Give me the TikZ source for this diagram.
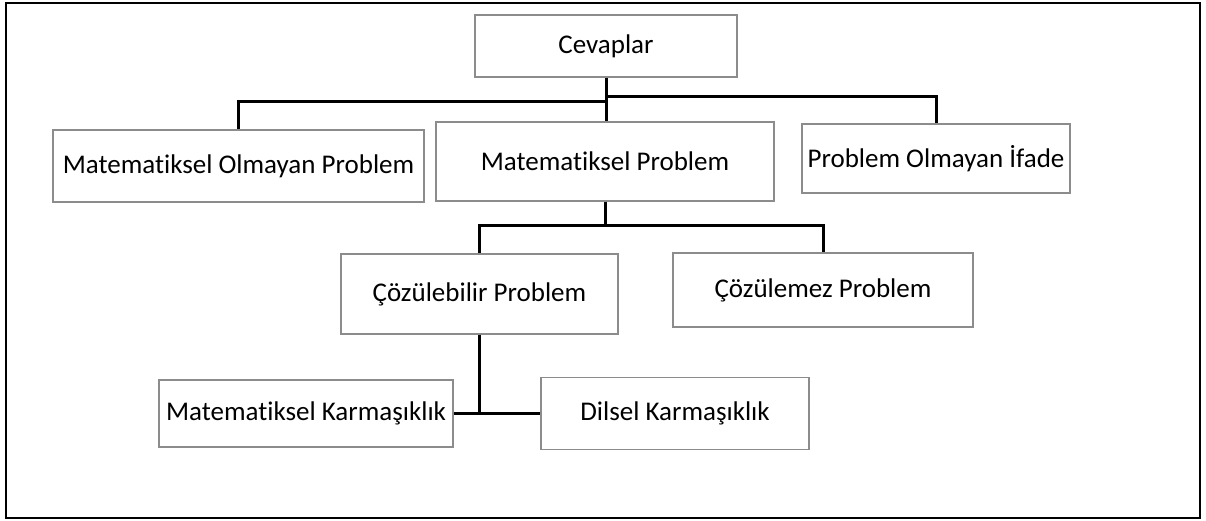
\documentclass[tikz,border=0pt]{standalone}
\usepackage{fontspec}
\setmainfont[Ligatures=NoCommon]{Carlito}
\usetikzlibrary{positioning}
\definecolor{boxgray}{RGB}{140,140,140}

\begin{document}
\begin{tikzpicture}[x=1pt, y=-1pt,
    box/.style={draw=boxgray, line width=1.2pt, inner sep=0pt, align=center,
      font=\fontsize{27}{32}\selectfont},
    link/.style={line width=3pt, black}]
      \useasboundingbox (0,0) rectangle (1206,521);
      \draw[line width=2pt] (6,3) rectangle (1200,518);

      % Level 0
      \node[box, minimum width=262pt, minimum height=62pt] (cevap) at (606,46) {Cevaplar};

      % Level 1
      \node[box, minimum width=371pt, minimum height=72pt] (mop) at (238.5,166) {Matematiksel Olmayan Problem};
      \node[box, minimum width=338pt, minimum height=79pt] (mp) at (605,161.5) {Matematiksel Problem};
      \node[box, minimum width=268pt, minimum height=69pt] (poi) at (936,158.5) {Problem Olmayan İfade};

      % Level 2
      \node[box, minimum width=277pt, minimum height=80pt] (cp) at (479.5,294) {Çözülebilir Problem};
      \node[box, minimum width=300pt, minimum height=74pt] (cmp) at (823,290) {Çözülemez Problem};

      % Level 3
      \node[box, minimum width=294pt, minimum height=67pt] (mk) at (306,413.5) {Matematiksel Karmaşıklık};
      \node[box, minimum width=268pt, minimum height=72pt] (dk) at (675,413.5) {Dilsel Karmaşıklık};

      % Connectors
      \coordinate (jleft) at (606,102);
      \coordinate (jright) at (606,97);
      \coordinate (jmid) at (605,226);
      \draw[link] (cevap.south) -- (cevap.south |- mp.north);
      \draw[link] (jleft) -| (mop.north);
      \draw[link] (jright) -| (poi.north);
      \draw[link] (mp.south) -- (jmid);
      \draw[link] (cp.north) |- (jmid) -| (cmp.north);
      \draw[link] (cp.south) |- (mk.east);
      \draw[link] (mk.east) -- (dk.west);
    \end{tikzpicture}
\end{document}
